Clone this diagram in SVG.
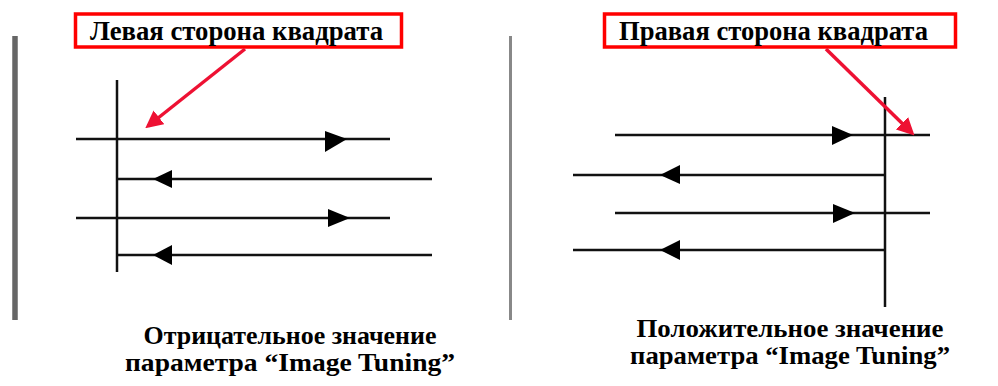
<svg xmlns="http://www.w3.org/2000/svg" width="998" height="386" viewBox="0 0 998 386">
<defs>
<style>
.ln{stroke:#111;stroke-width:2.5;fill:none}
.box{fill:none;stroke:#ff0000;stroke-width:3.5}
.red{stroke:#ee1133;stroke-width:3.5;fill:none}
.ah{fill:#000}
</style>
<marker id="ra" viewBox="0 0 10 10" refX="8" refY="5" markerWidth="5" markerHeight="5" orient="auto" markerUnits="strokeWidth">
<path d="M0,0 L10,5 L0,10 z" fill="#ee1133"/>
</marker>
</defs>
<rect width="998" height="386" fill="#fff"/>
<g id="dividers">
<line x1="15" y1="36" x2="15" y2="320" stroke="#666" stroke-width="5.5"/>
<line x1="510.5" y1="36" x2="510.5" y2="320" stroke="#888" stroke-width="3"/>
</g>
<g font-family="Liberation Serif, Times New Roman, serif" font-weight="bold" fill="#000">
<g id="left-label">
<rect class="box" x="75.5" y="14" width="326" height="33"/>
<text x="90" y="40" font-size="27" textLength="293" lengthAdjust="spacingAndGlyphs">Левая сторона квадрата</text>
</g>
<g id="right-label">
<rect class="box" x="604.5" y="14" width="351" height="33"/>
<text x="619" y="40" font-size="27" textLength="309" lengthAdjust="spacingAndGlyphs">Правая сторона квадрата</text>
</g>
<g id="left-caption">
<text x="290" y="344" font-size="25" text-anchor="middle" textLength="293" lengthAdjust="spacingAndGlyphs">Отрицательное значение</text>
<text x="290" y="371" font-size="25" text-anchor="middle" textLength="330" lengthAdjust="spacingAndGlyphs">параметра “Image Tuning”</text>
</g>
<g id="right-caption">
<text x="790" y="337" font-size="25" text-anchor="middle" textLength="307" lengthAdjust="spacingAndGlyphs">Положительное значение</text>
<text x="790" y="364" font-size="25" text-anchor="middle" textLength="320" lengthAdjust="spacingAndGlyphs">параметра “Image Tuning”</text>
</g>
</g>
<g id="left-scan">
<line class="ln" x1="117" y1="80" x2="117" y2="272"/>
<line class="ln" x1="76" y1="139" x2="390" y2="139"/>
<path class="ah" d="M325,131 L347,139 L325,152 z"/>
<line class="ln" x1="117" y1="179" x2="432" y2="179"/>
<path class="ah" d="M153,179 L172,170 L172,188 z"/>
<line class="ln" x1="76" y1="218" x2="390" y2="218"/>
<path class="ah" d="M328,209 L350,218 L328,227 z"/>
<line class="ln" x1="117" y1="255" x2="432" y2="255"/>
<path class="ah" d="M153,255 L172,245 L172,265 z"/>
</g>
<g id="right-scan">
<line class="ln" x1="885" y1="97" x2="885" y2="307"/>
<line class="ln" x1="615" y1="135" x2="930" y2="135"/>
<path class="ah" d="M832,126 L853,135 L832,145 z"/>
<line class="ln" x1="573" y1="175" x2="885" y2="175"/>
<path class="ah" d="M660,175 L680,165 L680,184 z"/>
<line class="ln" x1="615" y1="213" x2="930" y2="213"/>
<path class="ah" d="M833,204 L855,213 L833,223 z"/>
<line class="ln" x1="573" y1="250" x2="885" y2="250"/>
<path class="ah" d="M660,250 L680,240 L680,260 z"/>
</g>
<g id="connectors">
<line class="red" x1="245" y1="49" x2="148" y2="126" marker-end="url(#ra)"/>
<line class="red" x1="826" y1="49" x2="912" y2="133" marker-end="url(#ra)"/>
</g>
</svg>
